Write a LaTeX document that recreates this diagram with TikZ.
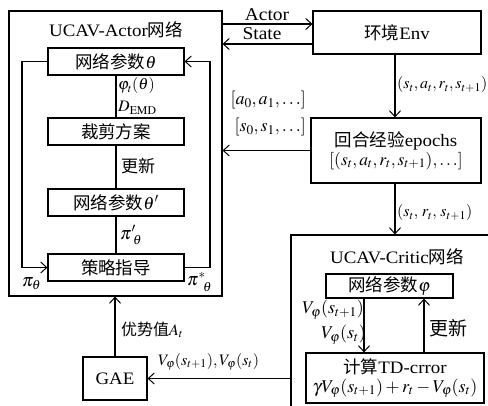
\documentclass[tikz,border=0pt]{standalone}
\usepackage{mathptmx}
\usepackage{fontspec}
\setmainfont[FakeStretch=1.08]{Liberation Serif}
\newfontfamily\cjk{Noto Sans CJK SC}
\usetikzlibrary{arrows.meta}
\newcommand{\zh}[1]{{\cjk #1}}
\begin{document}
\begin{tikzpicture}[x=1pt,y=-1pt,
  every node/.style={inner sep=0pt, font=\fontsize{17.5}{20}\selectfont},
  box/.style={draw, line width=1.1pt},
  lbl/.style={font=\fontsize{16}{18}\selectfont},
  big/.style={font=\fontsize{18}{20}\selectfont},
  ln/.style={line width=1.1pt},
  arr/.style={line width=1.1pt, -{Straight Barb[length=6pt,width=11pt,line width=1pt]}}]
\useasboundingbox (0,0) rectangle (488,406);
\clip (0,0) rectangle (488,406);
\fill[white] (0,0) rectangle (488,406);
% Actor network
\node[box, minimum width=213pt, minimum height=285pt] (actor) at (115.5,153.5) {};
\node (atitle) at (116,30) {UCAV-Actor\zh{网络}};
\node[box, minimum width=136pt, minimum height=27pt] (th) at (116,61.5) {\zh{网络参数}$\theta$};
\node[box, minimum width=136pt, minimum height=27pt] (cut) at (116,131.5) {\zh{裁剪方案}};
\node[box, minimum width=136pt, minimum height=27pt] (thp) at (116,202.5) {\zh{网络参数}$\theta'$};
\node[box, minimum width=136pt, minimum height=27pt] (pol) at (116,267.5) {\zh{策略指导}};
\draw[ln] (th) -- (cut);
\draw[ln] (cut) -- (thp);
\draw[ln] (thp) -- (pol);
\node[lbl, anchor=west] (l1) at (118,86) {$\varphi_t(\theta)$};
\node[lbl, anchor=west] (l2) at (118,108) {$D_{\mathrm{EMD}}$};
\node[lbl, anchor=west, font=\fontsize{17}{19}\selectfont] (l3) at (121,166) {\zh{更新}};
\node[big, anchor=west] (l4) at (120,235) {$\pi'_{\;\theta}$};
\coordinate (xl) at (22,0);
\coordinate (xr) at (210,0);
\draw[arr] (th.west) -- (th.west -| xl) -- (pol.west -| xl) -- (pol.west);
\draw[arr] (pol.east) -- (pol.east -| xr) -- (th.east -| xr) -- (th.east);
\node[big, anchor=west] (pl) at (22,284) {$\pi_{\theta}$};
\node[big, anchor=west] (pr) at (187,282) {$\pi^{*}_{\;\;\theta}$};
% Environment
\node[box, minimum width=168pt, minimum height=43pt] (env) at (397,32.5) {\zh{环境}Env};
\coordinate (ya) at (0,24);
\coordinate (ys) at (0,44);
\draw[arr] (actor.east |- ya) -- (env.west |- ya);
\draw[arr] (env.west |- ys) -- (actor.east |- ys);
\node[big] (la) at (267,15) {Actor};
\node[big] (ls) at (262,34) {State};
% Episode experience
\node[box, minimum width=170pt, minimum height=65pt, align=center] (ep) at (396,150.5)
  {\zh{回合经验}epochs\\[-1pt] $[(s_t,a_t,r_t,s_{t+1}),\ldots]$};
\coordinate (xv) at (395,0);
\draw[arr] (env.south -| xv) -- (ep.north -| xv);
\node[lbl, anchor=west] (le) at (397,85) {$(s_t,a_t,r_t,s_{t+1})$};
\draw[arr] (ep.west) -- (ep.west -| actor.east);
\node[big, anchor=east] (lb1) at (306,100) {$[a_0,a_1,\ldots]$};
\node[big, anchor=east] (lb2) at (306,127) {$[s_0,s_1,\ldots]$};
% Critic network
\node[box, minimum width=229pt, minimum height=195pt] (critic) at (405.5,332.5) {};
\draw[arr] (ep.south -| xv) -- (critic.north -| xv);
\node[lbl, anchor=west] (lc) at (397,213) {$(s_t,\,r_t,\,s_{t+1})$};
\node (ctitle) at (397,257) {UCAV-Critic\zh{网络}};
\node[box, minimum width=127pt, minimum height=24pt] (phi) at (389.5,286) {\zh{网络参数}$\varphi$};
\node[box, minimum width=178pt, minimum height=50pt, align=center] (td) at (395,378)
  {\zh{计算}TD-crror\\[-1pt] {\fontsize{18}{20}\selectfont$\gamma V_{\varphi}(s_{t+1})+r_t-V_{\varphi}(s_t)$}};
\coordinate (xd) at (364,0);
\coordinate (xu) at (424,0);
\draw[arr] (phi.south -| xd) -- (td.north -| xd);
\draw[arr] (td.north -| xu) -- (phi.south -| xu);
\node[big, anchor=east] (lv1) at (364,310) {$V_{\varphi}(s_{t+1})$};
\node[big, anchor=east] (lv2) at (366,335) {$V_{\varphi}(s_t)$};
\node[anchor=west, font=\fontsize{19}{21}\selectfont] (lu) at (429,328) {\zh{更新}};
% GAE
\node[box, minimum width=64pt, minimum height=43pt] (gae) at (115,378.5) {GAE};
\draw[arr] (gae.north) -- (gae.north |- actor.south);
\draw[arr] (gae.east -| critic.west) -- (gae.east);
\node[lbl, anchor=west] (lg) at (121,330) {\zh{优势值}$A_t$};
\node[lbl, anchor=west] (lgv) at (158,362) {$V_{\varphi}(s_{t+1}),V_{\varphi}(s_t)$};
\end{tikzpicture}
\end{document}
